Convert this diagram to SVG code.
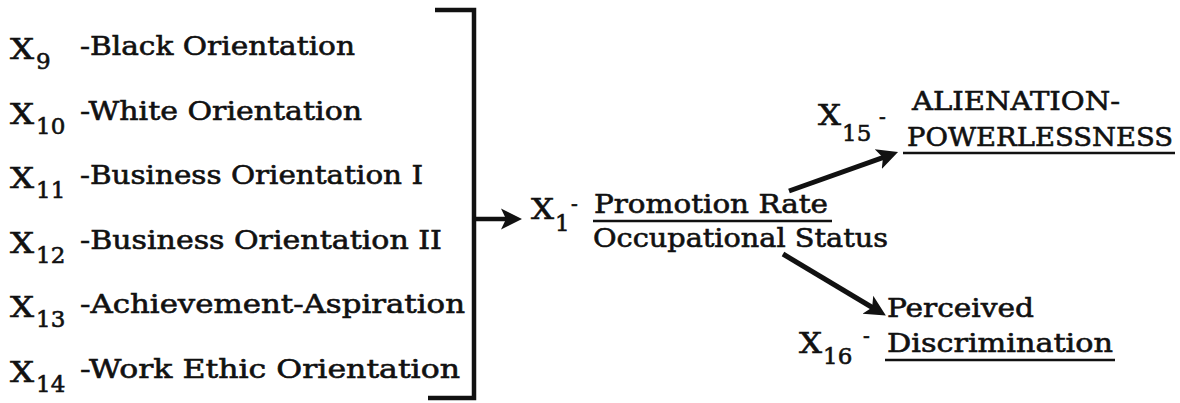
<svg xmlns="http://www.w3.org/2000/svg" width="1180" height="403" viewBox="0 0 1180 403">
  <style>
    text { font-family: "DejaVu Serif", "Liberation Serif", serif; fill: #111; stroke: #111; stroke-width: 0.6; }
    .lbl { font-size: 26px; }
    .vx { font-size: 28px; }
    .sub { font-size: 23px; }
    .dash { font-size: 20px; }
    .rule { stroke: #111; stroke-width: 2.5; fill: none; }
    .brace { stroke: #111; stroke-width: 4.5; fill: none; stroke-linejoin: miter; }
    .edge { stroke: #111; stroke-width: 5; fill: none; }
  </style>
  <defs>
    <marker id="head" markerUnits="userSpaceOnUse" markerWidth="24" markerHeight="24" refX="13" refY="12" orient="auto">
      <path d="M0,1.5 L21,12 L0,22.5 L5,12 z" fill="#111"/>
    </marker>
  </defs>

  <rect width="1180" height="403" fill="#fff"/>

  <!-- predictor variables -->
  <g id="x9">
    <text class="vx" x="10" y="59" textLength="24" lengthAdjust="spacingAndGlyphs">X</text>
    <text class="sub" x="36" y="69">9</text>
    <text class="lbl" x="80" y="55" textLength="275" lengthAdjust="spacingAndGlyphs">-Black Orientation</text>
  </g>
  <g id="x10">
    <text class="vx" x="10" y="123.6" textLength="24" lengthAdjust="spacingAndGlyphs">X</text>
    <text class="sub" x="36" y="133.6">10</text>
    <text class="lbl" x="80" y="119.6" textLength="282" lengthAdjust="spacingAndGlyphs">-White Orientation</text>
  </g>
  <g id="x11">
    <text class="vx" x="10" y="188.2" textLength="24" lengthAdjust="spacingAndGlyphs">X</text>
    <text class="sub" x="36" y="198.2">11</text>
    <text class="lbl" x="80" y="184.2" textLength="343" lengthAdjust="spacingAndGlyphs">-Business Orientation I</text>
  </g>
  <g id="x12">
    <text class="vx" x="10" y="252.8" textLength="24" lengthAdjust="spacingAndGlyphs">X</text>
    <text class="sub" x="36" y="262.8">12</text>
    <text class="lbl" x="80" y="248.8" textLength="362" lengthAdjust="spacingAndGlyphs">-Business Orientation II</text>
  </g>
  <g id="x13">
    <text class="vx" x="10" y="317.4" textLength="24" lengthAdjust="spacingAndGlyphs">X</text>
    <text class="sub" x="36" y="327.4">13</text>
    <text class="lbl" x="80" y="313.4" textLength="385" lengthAdjust="spacingAndGlyphs">-Achievement-Aspiration</text>
  </g>
  <g id="x14">
    <text class="vx" x="10" y="382" textLength="24" lengthAdjust="spacingAndGlyphs">X</text>
    <text class="sub" x="36" y="392">14</text>
    <text class="lbl" x="80" y="378" textLength="380" lengthAdjust="spacingAndGlyphs">-Work Ethic Orientation</text>
  </g>

  <!-- X1 -->
  <g id="x1">
    <text class="vx" x="531" y="219" textLength="23" lengthAdjust="spacingAndGlyphs">X</text>
    <text class="sub" x="555" y="231">1</text>
    <text class="dash" x="571" y="211">-</text>
    <text class="lbl" x="594" y="213" textLength="234" lengthAdjust="spacingAndGlyphs">Promotion Rate</text>
    <line class="rule" x1="593" y1="221" x2="832" y2="221"/>
    <text class="lbl" x="593" y="247" textLength="295" lengthAdjust="spacingAndGlyphs">Occupational Status</text>
  </g>

  <!-- X15 -->
  <g id="x15">
    <text class="vx" x="818" y="125" textLength="23" lengthAdjust="spacingAndGlyphs">X</text>
    <text class="sub" x="842" y="141">15</text>
    <text class="dash" x="879" y="124">-</text>
    <text class="lbl" x="912" y="110" textLength="208" lengthAdjust="spacingAndGlyphs">ALIENATION-</text>
    <text class="lbl" x="907" y="146" textLength="266" lengthAdjust="spacingAndGlyphs">POWERLESSNESS</text>
    <line class="rule" x1="903" y1="153" x2="1175" y2="153"/>
  </g>

  <!-- X16 -->
  <g id="x16">
    <text class="vx" x="799" y="353" textLength="23" lengthAdjust="spacingAndGlyphs">X</text>
    <text class="sub" x="823" y="364">16</text>
    <text class="dash" x="863" y="343">-</text>
    <text class="lbl" x="887" y="317" textLength="147" lengthAdjust="spacingAndGlyphs">Perceived</text>
    <text class="lbl" x="887" y="352" textLength="226" lengthAdjust="spacingAndGlyphs">Discrimination</text>
    <line class="rule" x1="885" y1="360" x2="1115" y2="360"/>
  </g>

  <!-- connectors -->
  <g id="connectors">
    <path class="brace" d="M435,10 H474 V398 H428"/>
    <path class="brace" d="M474,219 H514" marker-end="url(#head)"/>
    <path class="edge" d="M789,191 L890.5,154.8" marker-end="url(#head)"/>
    <path class="edge" d="M783,254 L879,311.5" marker-end="url(#head)"/>
  </g>
</svg>
